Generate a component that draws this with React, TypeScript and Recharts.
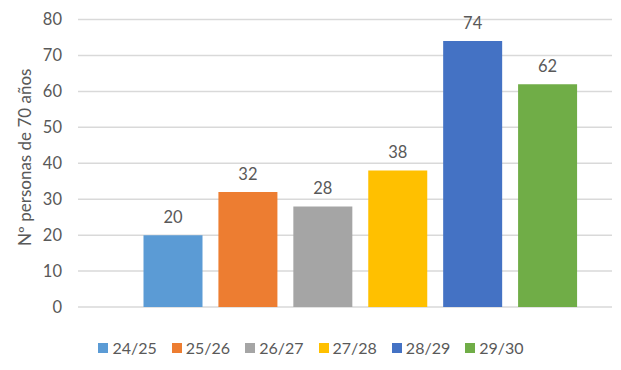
import React from "react";
import { BarChart, Bar, Cell, XAxis, YAxis, CartesianGrid, LabelList, Legend } from "recharts";

const CATEGORIAS = ["24/25", "25/26", "26/27", "27/28", "28/29", "29/30"];
const PERSONAS = [20, 32, 28, 38, 74, 62];
const TICKS_Y = [0, 10, 20, 30, 40, 50, 60, 70, 80];

const COLORES = ["#5B9BD5", "#ED7D31", "#A5A5A5", "#FFC000", "#4472C4", "#70AD47"];
const TEXTO = "#595959";
const FUENTE = "Lato, 'Open Sans', sans-serif";

const data = CATEGORIAS.map((c, i) => ({ curso: c, personas: PERSONAS[i] }));

function Leyenda() {
  return (
    <div
      style={{
        display: "flex",
        justifyContent: "center",
        gap: 15,
        fontFamily: FUENTE,
        fontSize: 16,
        lineHeight: "20px",
        color: TEXTO,
        paddingLeft: 10,
      }}
    >
      {CATEGORIAS.map((c, i) => (
        <div key={c} style={{ display: "flex", alignItems: "center" }}>
          <span
            style={{
              display: "inline-block",
              width: 10,
              height: 10,
              background: COLORES[i],
              marginRight: 4,
            }}
          />
          <span>{c}</span>
        </div>
      ))}
    </div>
  );
}

export default function App() {
  return (
    <div style={{ position: "absolute", left: 0, top: 0, background: "#fff" }}>
      <BarChart
        width={621}
        height={370}
        data={data}
        margin={{ top: 19.5, right: 9, left: 0, bottom: 43 }}
      >
        <CartesianGrid vertical={false} stroke="#D9D9D9" strokeWidth={1.5} />
        <XAxis dataKey="curso" hide padding={{ left: 57.5, right: 27 }} />
        <YAxis
          domain={[0, 80]}
          ticks={TICKS_Y}
          width={78}
          axisLine={false}
          tickLine={false}
          tickMargin={10}
          tick={{ fill: TEXTO, fontSize: 16.5, fontFamily: FUENTE }}
          label={{
            value: "Nº personas de 70 años",
            angle: -90,
            position: "insideLeft",
            dx: 20,
            dy: -6,
            style: { fill: TEXTO, fontSize: 17, fontFamily: FUENTE, textAnchor: "middle" },
          }}
        />
        <Legend
          verticalAlign="bottom"
          wrapperStyle={{ bottom: 12 }}
          content={() => <Leyenda />}
        />
        <Bar dataKey="personas" barSize={59} isAnimationActive={false}>
          {data.map((d, i) => (
            <Cell key={d.curso} fill={COLORES[i]} />
          ))}
          <LabelList
            dataKey="personas"
            position="top"
            offset={12}
            style={{ fill: TEXTO, fontSize: 16.5, fontFamily: FUENTE }}
          />
        </Bar>
      </BarChart>
    </div>
  );
}
